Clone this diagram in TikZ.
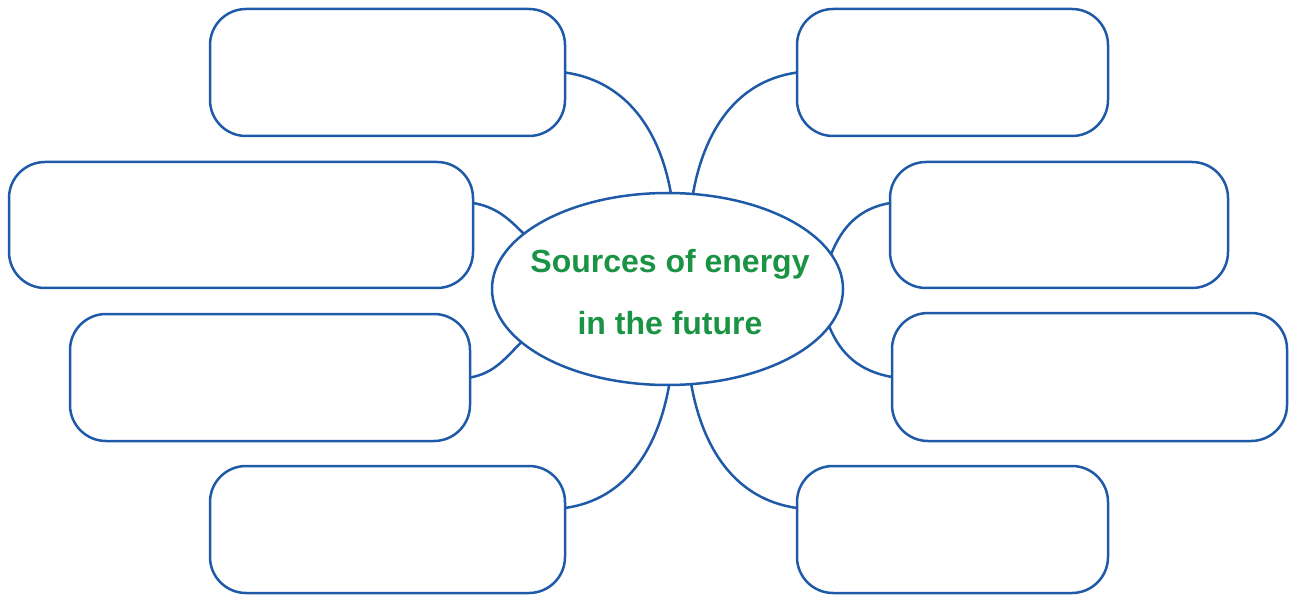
\documentclass[tikz,border=0pt]{standalone}
\usepackage{fontspec}
\setmainfont{Liberation Sans}
\usetikzlibrary{shapes.geometric}
\definecolor{lineblue}{HTML}{1F5AA8}
\definecolor{textgreen}{HTML}{1A9444}
\begin{document}
\begin{tikzpicture}[x=1pt,y=1pt,
  box/.style={draw=lineblue, line width=2.5pt, rounded corners=36pt, inner sep=0pt, outer sep=0pt},
  hub/.style={ellipse, draw=lineblue, line width=2.5pt, inner sep=0pt, outer sep=0pt, minimum width=351pt, minimum height=192pt},
  conn/.style={draw=lineblue, line width=2.5pt},
  hubtext/.style={text=textgreen, font=\bfseries\fontsize{32}{62}\selectfont, align=center, inner sep=0pt}]
\useasboundingbox (0,0) rectangle (1289,595);
% boxes
\node[box, minimum width=355pt, minimum height=127pt] (tl) at (387.5,522.5) {};
\node[box, minimum width=464pt, minimum height=126pt] (l2) at (241,370) {};
\node[box, minimum width=400pt, minimum height=127pt] (l3) at (270,217.5) {};
\node[box, minimum width=355pt, minimum height=127pt] (bl) at (387.5,65.5) {};
\node[box, minimum width=311pt, minimum height=127pt] (tr) at (952.5,522.5) {};
\node[box, minimum width=338pt, minimum height=126pt] (r2) at (1059,370) {};
\node[box, minimum width=395pt, minimum height=128pt] (r3) at (1089.5,218) {};
\node[box, minimum width=311pt, minimum height=127pt] (br) at (952.5,65.5) {};
% hub
\node[hub] (c) at (667.5,306) {};
\node[hubtext] (ct) at (670,303) {Sources of energy\\in the future};
% connectors
\draw[conn] (tl.east) to[out=-8, in=100] (c.88.5);
\draw[conn] (tr.west) to[out=188, in=80] (c.75.6);
\draw[conn] ([yshift=22pt]l2.east) to[out=-10, in=135] (c.159.6);
\draw[conn] (l3.east) to[out=10, in=-135] (c.200.5);
\draw[conn] ([yshift=22pt]r2.west) to[out=190, in=68] (c.12.6);
\draw[conn] (r3.west) to[out=170, in=-68] (c.-13);
\draw[conn] ([yshift=21.5pt]bl.east) to[out=8, in=-100] (c.271.5);
\draw[conn] ([yshift=21.5pt]br.west) to[out=172, in=-80] (c.284.4);
\end{tikzpicture}
\end{document}
